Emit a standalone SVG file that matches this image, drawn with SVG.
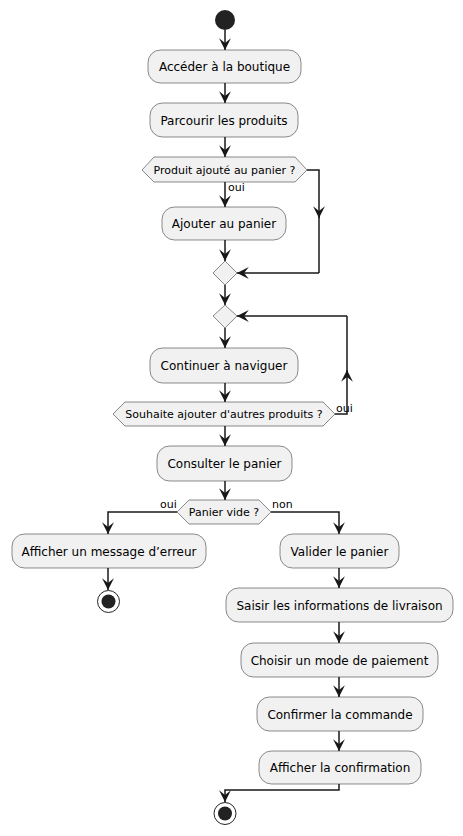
<svg xmlns="http://www.w3.org/2000/svg" width="463" height="836" viewBox="0 0 463 836">
<defs>
<marker id="ah" markerUnits="userSpaceOnUse" markerWidth="13" markerHeight="13" viewBox="0 0 11 10" refX="10" refY="5" orient="auto">
<path d="M0,0 L10,5 L0,10 L4,5 Z" fill="#181818"/>
</marker>
<style>
.box{fill:#F1F1F1;stroke:#181818;stroke-width:0.5}
.t{font-family:"DejaVu Sans",sans-serif;font-size:12px;fill:#000;text-anchor:middle}
.ts{font-family:"DejaVu Sans",sans-serif;font-size:11px;fill:#000;text-anchor:middle}
.lbl{font-family:"DejaVu Sans",sans-serif;font-size:11px;fill:#000}
.c{fill:none;stroke:#181818;stroke-width:1.5}
.c polyline,.c line{marker-end:url(#ah)}
.c .plain{marker-end:none}
</style>
</defs>
<g class="c" id="connectors">
<line x1="225" y1="30" x2="225" y2="50"/>
<line x1="225" y1="83" x2="225" y2="103"/>
<line x1="225" y1="137" x2="225" y2="157"/>
<line x1="225" y1="182" x2="225" y2="207"/>
<line x1="225" y1="240" x2="225" y2="261"/>
<polyline points="307,170 319,170 319,218"/>
<polyline class="plain" points="319,216 319,273"/>
<polyline points="319,273 237,273"/>
<line x1="225" y1="285" x2="225" y2="305"/>
<line x1="225" y1="328" x2="225" y2="348"/>
<line x1="225" y1="383" x2="225" y2="402"/>
<polyline points="335,414 347,414 347,370"/>
<polyline class="plain" points="347,372 347,316"/>
<polyline points="347,316 237,316"/>
<line x1="225" y1="426" x2="225" y2="446"/>
<line x1="225" y1="481" x2="225" y2="500"/>
<polyline points="177,512 108,512 108,534"/>
<polyline points="271,512 339,512 339,534"/>
<line x1="108" y1="568" x2="108" y2="590"/>
<line x1="339" y1="568" x2="339" y2="588"/>
<line x1="339" y1="622" x2="339" y2="643"/>
<line x1="339" y1="677" x2="339" y2="697"/>
<line x1="339" y1="731" x2="339" y2="751"/>
<polyline points="339,784 339,790 225,790 225,802"/>
</g>
<g id="labels">
<text class="lbl" x="228" y="191">oui</text>
<text class="lbl" x="336" y="412">oui</text>
<text class="lbl" x="160" y="508">oui</text>
<text class="lbl" x="272" y="508">non</text>
</g>
<g id="start"><circle cx="225" cy="20" r="10" fill="#222222"/></g>
<g id="n1"><rect class="box" x="148" y="50" width="153" height="33" rx="12.5"/><text class="t" x="224.5" y="71">Accéder à la boutique</text></g>
<g id="n2"><rect class="box" x="150" y="103" width="148" height="34" rx="12.5"/><text class="t" x="224" y="124.5">Parcourir les produits</text></g>
<g id="d1"><polygon class="box" points="142,170 154,157 295,157 307,170 295,182 154,182"/><text class="ts" x="224.5" y="174">Produit ajouté au panier ?</text></g>
<g id="n3"><rect class="box" x="162" y="207" width="124" height="33" rx="12.5"/><text class="t" x="224" y="228">Ajouter au panier</text></g>
<g id="m1"><polygon class="box" points="213,273 225,261 237,273 225,285"/></g>
<g id="m2"><polygon class="box" points="213,316 225,305 237,316 225,328"/></g>
<g id="n4"><rect class="box" x="150" y="348" width="148" height="35" rx="12.5"/><text class="t" x="224" y="370">Continuer à naviguer</text></g>
<g id="d2"><polygon class="box" points="113,414 125,402 323,402 335,414 323,426 125,426"/><text class="ts" x="224" y="418">Souhaite ajouter d'autres produits ?</text></g>
<g id="n5"><rect class="box" x="157" y="446" width="135" height="35" rx="12.5"/><text class="t" x="224.5" y="468">Consulter le panier</text></g>
<g id="d3"><polygon class="box" points="177,512 189,500 259,500 271,512 259,524 189,524"/><text class="ts" x="224" y="516">Panier vide ?</text></g>
<g id="n6"><rect class="box" x="12" y="534" width="194" height="34" rx="12.5"/><text class="t" x="109" y="555.5">Afficher un message d’erreur</text></g>
<g id="stop1"><circle cx="108.5" cy="601.5" r="11" fill="none" stroke="#222222" stroke-width="1"/><circle cx="108.5" cy="601.5" r="7" fill="#222222"/></g>
<g id="n7"><rect class="box" x="280" y="534" width="119" height="34" rx="12.5"/><text class="t" x="339.5" y="555.5">Valider le panier</text></g>
<g id="n8"><rect class="box" x="226" y="588" width="227" height="34" rx="12.5"/><text class="t" x="339.5" y="609.5">Saisir les informations de livraison</text></g>
<g id="n9"><rect class="box" x="241" y="643" width="197" height="34" rx="12.5"/><text class="t" x="339.5" y="664.5">Choisir un mode de paiement</text></g>
<g id="n10"><rect class="box" x="257" y="697" width="166" height="34" rx="12.5"/><text class="t" x="340" y="718.5">Confirmer la commande</text></g>
<g id="n11"><rect class="box" x="259" y="751" width="162" height="33" rx="12.5"/><text class="t" x="340" y="772">Afficher la confirmation</text></g>
<g id="stop2"><circle cx="225" cy="813.5" r="11" fill="none" stroke="#222222" stroke-width="1"/><circle cx="225" cy="813.5" r="7" fill="#222222"/></g>
</svg>
